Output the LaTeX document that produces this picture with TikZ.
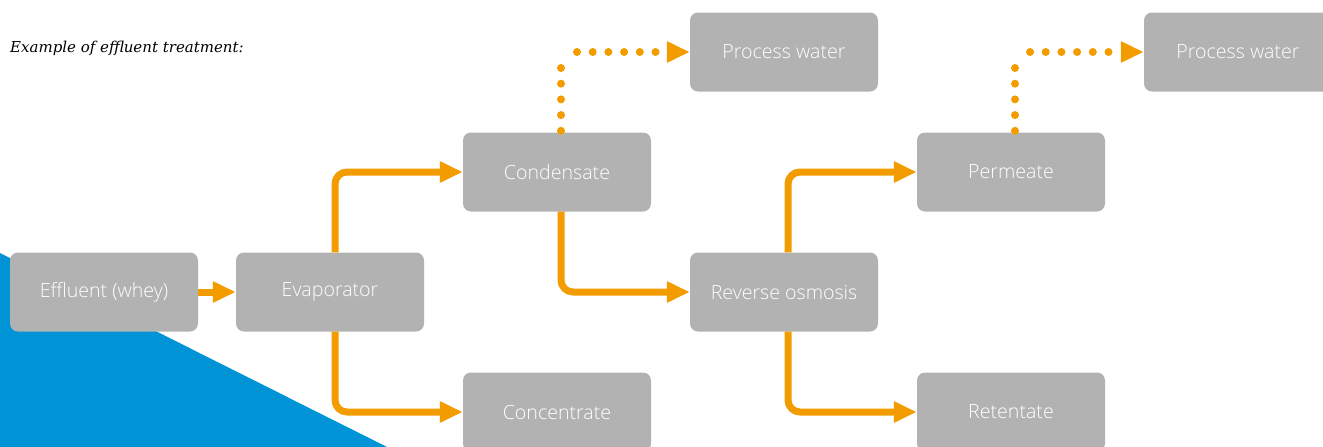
\documentclass[tikz,border=0pt]{standalone}
\usepackage{fontspec}
\setmainfont{DejaVu Serif}
\newfontfamily\stagefont{Open Sans Light}
\usetikzlibrary{arrows.meta,calc}
\definecolor{floworange}{HTML}{F39C00}
\definecolor{stagegray}{HTML}{B2B2B2}
\definecolor{wedgeblue}{HTML}{0093D6}

\begin{document}
\begin{tikzpicture}[x=1pt,y=-1pt,
    stage/.style={fill=stagegray, rounded corners=8pt, minimum width=188pt, minimum height=79pt, inner sep=0pt, text=white, font=\stagefont\fontsize{19.6}{22}\selectfont},
    flow/.style={draw=floworange, line width=7pt, rounded corners=12pt, -{Triangle[length=23pt,width=20pt]}},
    dotline/.style={draw=floworange, line width=8pt, line cap=round, dash pattern=on 0pt off 15.7pt}]
    \useasboundingbox (0,0) rectangle (1323,447);

    % Background wedge
    \fill[wedgeblue] (0,253) -- (387,447) -- (0,447) -- cycle;

    % Title
    \node[anchor=base west, inner sep=0pt, font=\itshape\fontsize{15}{18}\selectfont] (title) at (10,52) {Example of effluent treatment:};

    % Stages
    \node[stage] (effluent) at (104,292) {Effluent (whey)};
    \node[stage] (evap) at (330,292) {Evaporator};
    \node[stage] (cond) at (557,172) {Condensate};
    \node[stage] (conc) at (557,412) {Concentrate};
    \node[stage] (water1) at (784,52) {Process water};
    \node[stage] (ro) at (784,292) {Reverse osmosis};
    \node[stage] (perm) at (1011,172) {Permeate};
    \node[stage] (ret) at (1011,412) {Retentate};
    \node[stage] (water2) at (1238,52) {Process water};

    % Flows
    \draw[flow] (effluent) -- (evap);
    \draw[flow] ([xshift=5pt]evap.north) |- (cond.west);
    \draw[flow] ([xshift=5pt]evap.south) |- (conc.west);
    \draw[flow] ([xshift=4pt]cond.south) |- (ro.west);
    \draw[flow] ([xshift=4pt]ro.north) |- (perm.west);
    \draw[flow] ([xshift=4pt]ro.south) |- (ret.west);

    % Water recovery (dotted, corner left open)
    \coordinate (bend1) at ([xshift=4pt]cond.north |- water1.west);
    \coordinate (bend2) at ([xshift=4pt]perm.north |- water2.west);
    \draw[dotline] ([xshift=4pt,yshift=1.5pt]cond.north) -- ([yshift=-15.5pt]bend1);
    \draw[dotline, -{Triangle[length=23pt,width=20pt]}] ([xshift=16pt]bend1) -- (water1.west);
    \draw[dotline] ([xshift=4pt,yshift=1.5pt]perm.north) -- ([yshift=-15.5pt]bend2);
    \draw[dotline, -{Triangle[length=23pt,width=20pt]}] ([xshift=15pt]bend2) -- (water2.west);
\end{tikzpicture}
\end{document}
